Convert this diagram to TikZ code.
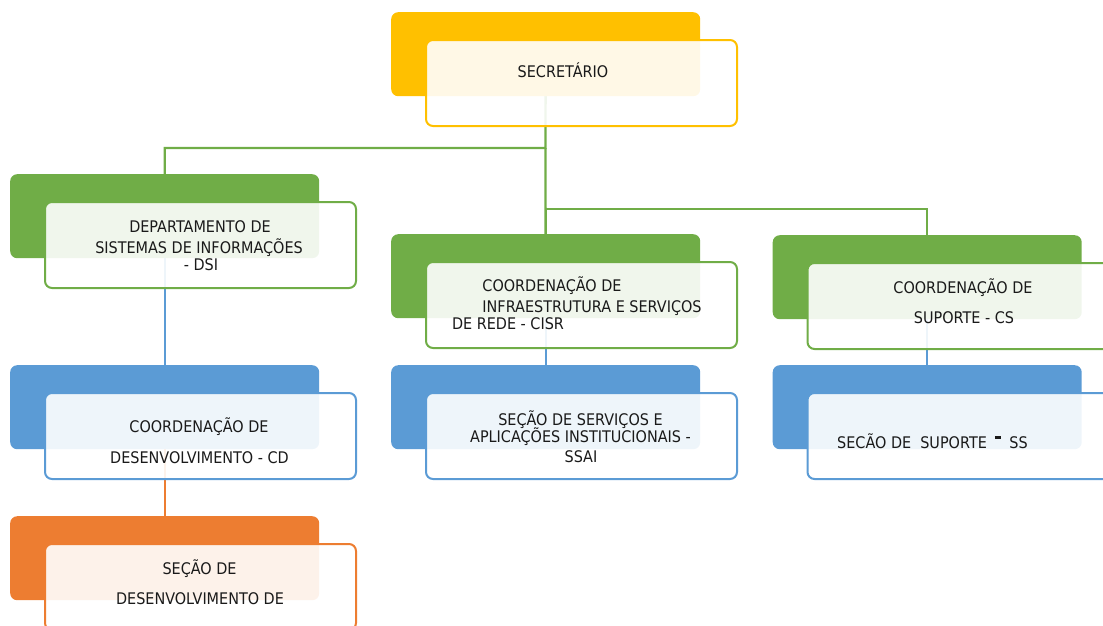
\documentclass[tikz,border=0pt]{standalone}
\usepackage{fontspec}
\setmainfont[FakeStretch=0.9]{DejaVu Sans}
\pgfdeclarelayer{bg}
\pgfsetlayers{bg,main}
\definecolor{cyel}{HTML}{FFC000}
\definecolor{cgrn}{HTML}{70AD47}
\definecolor{cblu}{HTML}{5B9BD5}
\definecolor{corg}{HTML}{ED7D31}
\definecolor{ctxt}{HTML}{1A1A1A}
\tikzset{
  backbox/.style={rectangle, rounded corners=7pt, minimum width=309pt, minimum height=84pt, inner sep=0pt, anchor=north west, fill=#1},
  frontbox/.style={rectangle, rounded corners=7pt, minimum width=311pt, minimum height=86pt, inner sep=0pt, anchor=north west, line width=2pt, draw=#1, fill=white, fill opacity=0.9, draw opacity=1},
  lbl/.style={anchor=base, inner sep=0pt, font=\fontsize{16}{19}\selectfont, text=ctxt},
  conn/.style={line width=2.3pt, draw=#1}
}
\begin{document}
\begin{tikzpicture}[x=1pt,y=-1pt]
\useasboundingbox (0,0) rectangle (1103,625);
\clip (0,0) rectangle (1103,625);
% back boxes
\node[backbox=cyel] (secB) at (391,12) {};
\node[backbox=cgrn] (dsiB) at (10,174) {};
\node[backbox=cgrn] (cisrB) at (391,234) {};
\node[backbox=cgrn] (csB) at (772.5,235) {};
\node[backbox=cblu] (cdB) at (10,365) {};
\node[backbox=cblu] (ssaiB) at (391,365) {};
\node[backbox=cblu] (ssB) at (772.5,365) {};
\node[backbox=corg] (sdB) at (10,516) {};
% connectors
\coordinate (j1) at (545.5,148);
\coordinate (j2) at (545.5,209);
\begin{pgfonlayer}{bg}
\draw[conn=cgrn] (secB.center) -- (j1) -| (dsiB.center);
\draw[conn=cgrn] (j1) -- (cisrB.center);
\draw[conn=cgrn] (j2) -| (csB.center);
\draw[conn=cblu] (dsiB.center) -- (cdB.center);
\draw[conn=corg] (cdB.center) -- (sdB.center);
\draw[conn=cblu] (cisrB.center) -- (ssaiB.center);
\draw[conn=cblu] (csB.center) -- (ssB.center);
\end{pgfonlayer}
% front boxes
\node[frontbox=cyel] (secF) at (425,39) {};
\node[frontbox=cgrn] (dsiF) at (44,201) {};
\node[frontbox=cgrn] (cisrF) at (425,261) {};
\node[frontbox=cgrn] (csF) at (806.5,262) {};
\node[frontbox=cblu] (cdF) at (44,392) {};
\node[frontbox=cblu] (ssaiF) at (425,392) {};
\node[frontbox=cblu] (ssF) at (806.5,392) {};
\node[frontbox=corg] (sdF) at (44,543) {};
% texts
\node[lbl] (t1) at (563,77) {SECRETÁRIO};
\node[lbl] (t2) at (200,232) {DEPARTAMENTO DE};
\node[lbl] (t3) at (199,253) {SISTEMAS DE INFORMAÇÕES};
\node[lbl] (t4) at (201,270) {- DSI};
\node[lbl] (t5) at (552,291) {COORDENAÇÃO DE};
\node[lbl] (t6) at (592,312) {INFRAESTRUTURA E SERVIÇOS};
\node[lbl] (t7) at (508,329) {DE REDE - CISR};
\node[lbl] (t8) at (963,293) {COORDENAÇÃO DE};
\node[lbl] (t9) at (964,323) {SUPORTE - CS};
\node[lbl] (t10) at (199,432) {COORDENAÇÃO DE};
\node[lbl] (t11) at (199.5,463) {DESENVOLVIMENTO - CD};
\node[lbl] (t12) at (580.5,425) {SEÇÃO DE SERVIÇOS E};
\node[lbl] (t13) at (580.5,442) {APLICAÇÕES INSTITUCIONAIS -};
\node[lbl] (t14) at (581,462) {SSAI};
\node[lbl, anchor=base west] (t15) at (837,448) {SECÃO DE\ \ SUPORTE\hspace{8pt}\rule[9pt]{6.5pt}{2.6pt}\hspace{8pt}SS};
\node[lbl] (t16) at (199.5,574) {SEÇÃO DE};
\node[lbl] (t17) at (200,604) {DESENVOLVIMENTO DE};
\end{tikzpicture}
\end{document}
